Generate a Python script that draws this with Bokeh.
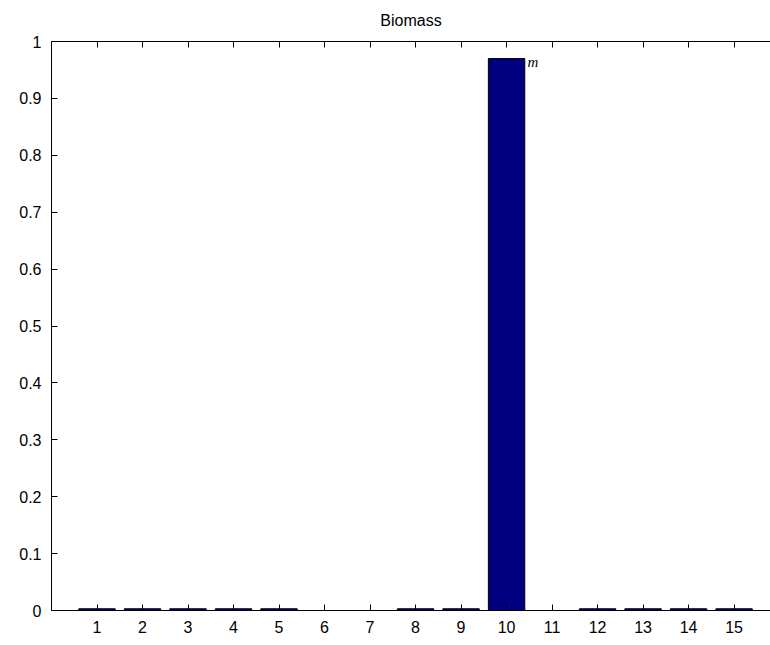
from bokeh.plotting import figure
from bokeh.models import FixedTicker, LinearAxis, Range1d, ColumnDataSource
from bokeh.core.properties import value
from bokeh.embed import file_html
from bokeh.resources import INLINE

title = "Biomass"
categories = list(range(1, 16))
values = [0.003, 0.003, 0.003, 0.003, 0.003, 0.0, 0.0, 0.003, 0.003, 0.97,
          0.0, 0.003, 0.003, 0.003, 0.003]
y_ticks = [0, 0.1, 0.2, 0.3, 0.4, 0.5, 0.6, 0.7, 0.8, 0.9, 1]
label_text = ["m"]
label_x = [10]
label_y = [0.97]

src = ColumnDataSource(dict(x=categories, top=values))

p = figure(width=770, height=645, output_backend="svg", toolbar_location=None,
           x_range=Range1d(0, 15.8), y_range=Range1d(0, 1),
           min_border_left=51, min_border_right=0, min_border_top=41,
           min_border_bottom=35, title=title)
p.background_fill_color = "white"
p.border_fill_color = "white"
p.outline_line_color = None
p.grid.visible = False

p.title.align = "center"
p.title.vertical_align = "top"
p.title.text_font = "Liberation Sans"
p.title.text_font_size = "16px"
p.title.text_font_style = "normal"
p.title.text_color = "#000000"
p.title.offset = -5
p.title.standoff = 22

p.vbar(x="x", top="top", width=0.8, bottom=0, source=src,
       fill_color="#000080", line_color="#000000", line_width=1)

p.text(x=label_x, y=label_y, text=label_text, x_offset=21, y_offset=-5,
       text_baseline="top", text_align="left",
       text_font=value("Liberation Serif"), text_font_style="italic",
       text_font_size="15px", text_color="#000000")

for ax in p.xaxis:
    ax.ticker = FixedTicker(ticks=categories)
    ax.major_tick_in = 6
    ax.major_tick_out = 0
    ax.minor_tick_line_color = None
    ax.major_label_standoff = 10
    ax.major_label_text_font = "Liberation Sans"
    ax.major_label_text_font_size = "16px"
    ax.major_label_text_color = "#000000"
    ax.axis_line_color = "#000000"

for ax in p.yaxis:
    ax.ticker = FixedTicker(ticks=y_ticks)
    ax.major_label_overrides = {0: "0", 1: "1"}
    ax.major_tick_in = 6
    ax.major_tick_out = 0
    ax.minor_tick_line_color = None
    ax.major_label_standoff = 10
    ax.major_label_text_font = "Liberation Sans"
    ax.major_label_text_font_size = "16px"
    ax.major_label_text_color = "#000000"
    ax.axis_line_color = "#000000"

top_axis = LinearAxis(ticker=FixedTicker(ticks=categories))
top_axis.major_tick_in = 6
top_axis.major_tick_out = 0
top_axis.minor_tick_line_color = None
top_axis.major_label_text_font_size = "0px"
top_axis.major_label_text_alpha = 0
top_axis.major_label_standoff = 0
top_axis.axis_line_color = "#000000"
p.add_layout(top_axis, "above")

open("out.html", "w").write(file_html(p, INLINE))
